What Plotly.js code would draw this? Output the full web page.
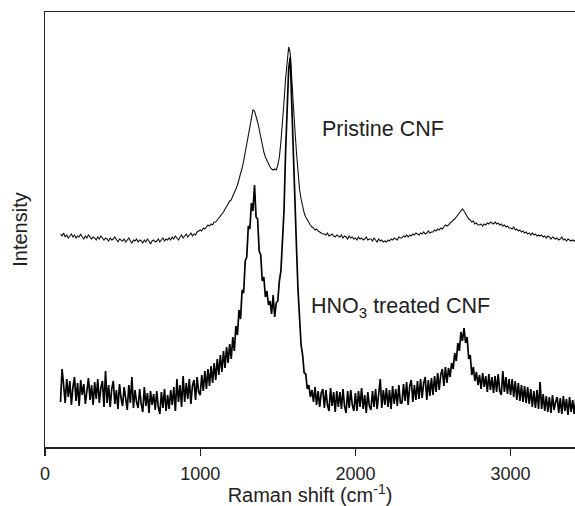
<!DOCTYPE html>
<html>
<head>
<meta charset="utf-8">
<script src="https://cdn.plot.ly/plotly-3.0.1.min.js"></script>
<style>html,body{margin:0;padding:0;background:#fff;}#chart{width:575px;height:506px;}</style>
</head>
<body>
<div id="chart"></div>
<script>
// Raman shift grid (cm^-1): first value and spacing of the recorded spectra
const shiftStart = 100;
const shiftStep = 10;

// Pristine CNF intensity (arbitrary units), one value per grid point, 100..3420 cm^-1
const pristineCNF = [
213,211,214,210,212,209,211,213,210,212,
209,211,210,213,210,208,211,209,212,210,
208,210,209,207,210,208,211,209,207,209,
208,206,209,207,208,210,207,205,208,207,
206,208,205,207,209,206,204,207,206,208,
205,207,206,204,207,205,208,206,203,206,
207,205,206,208,205,207,209,206,208,207,
209,207,210,208,211,209,207,210,212,209,
211,213,210,212,214,211,213,212,215,216,
217,216,219,218,220,222,221,223,222,225,
225,227,228,231,233,235,238,240,243,246,
247,251,254,258,262,267,272,279,286,295,
303,312,322,330,337,336,331,325,318,310,
302,295,290,286,282,280,278,277,278,277,
282,290,305,323,345,368,385,400,394,372,
345,318,295,275,258,248,240,234,230,227,
224,222,220,219,217,218,216,215,214,213,
213,212,214,211,212,213,211,210,212,211,
210,212,209,211,210,208,211,209,210,208,
209,207,210,208,209,207,208,210,207,208,
208,206,209,207,205,208,206,207,205,206,
205,207,206,208,207,209,208,207,210,209,
209,211,210,212,210,212,211,213,212,214,
213,212,214,213,215,213,214,216,214,215,
215,217,216,218,217,219,218,220,222,221,
222,224,225,227,228,230,232,234,236,238,
236,233,230,228,227,225,226,223,224,222,
222,223,221,223,222,224,223,225,224,223,
225,223,224,222,223,221,222,220,221,219,
219,218,220,217,218,216,217,215,216,214,
215,213,214,212,214,212,213,211,212,211,
212,210,211,209,211,210,208,210,209,208,
209,207,208,210,207,208,206,208,207,206,
207,206,207
];

// HNO3 treated CNF intensity (arbitrary units), same grid
const treatedCNF = [
45,78,62,44,68,50,66,42,60,70,
46,64,41,67,52,63,43,58,69,47,
62,42,65,48,68,44,59,66,40,76,
44,62,40,58,66,43,57,38,63,49,
41,60,47,37,62,44,70,39,57,45,
39,58,43,35,60,41,54,34,56,42,
53,37,56,40,33,55,39,58,36,52,
38,57,42,60,36,68,45,62,40,71,
45,64,48,68,43,61,67,47,70,55,
52,72,56,76,58,78,61,81,64,84,
67,88,72,92,75,96,79,100,84,103,
88,110,96,121,112,137,128,157,154,186,
190,221,218,244,236,262,230,228,196,192,
166,170,150,156,142,146,133,152,130,144,
146,166,176,211,236,294,338,378,390,338,
284,236,202,158,132,102,92,74,73,58,
62,50,57,45,60,42,56,40,54,58,
39,57,42,36,59,41,55,35,56,40,
55,38,58,41,34,56,39,57,42,36,
54,36,56,40,59,38,52,34,55,41,
37,56,40,58,38,55,68,39,57,42,
59,40,57,38,61,43,58,41,62,44,
44,63,46,65,42,61,67,45,62,47,
66,48,68,49,64,70,47,67,51,69,
52,71,55,74,57,72,78,61,80,64,
79,70,84,78,94,86,104,96,115,106,
119,104,110,88,92,72,80,66,75,62,
72,58,74,60,71,55,73,57,70,54,
71,55,73,56,52,76,55,70,53,68,
52,68,50,66,47,64,46,62,45,61,
44,60,43,58,40,56,39,57,38,65,
38,53,36,51,35,50,34,52,37,45,
50,34,49,33,51,36,48,32,50,35,
47,33,48
];

const xTicks = [0, 1000, 2000, 3000];
const labelPristine = "Pristine CNF";
const labelTreated = "HNO<sub>3</sub> treated CNF";

const shiftsP = pristineCNF.map((_, i) => shiftStart + i * shiftStep);
const shiftsT = treatedCNF.map((_, i) => shiftStart + i * shiftStep);

const font = "Liberation Sans, Arial, sans-serif";

const traces = [
  {x: shiftsP, y: pristineCNF, type: "scatter", mode: "lines",
   line: {color: "#111", width: 1.1}, showlegend: false, hoverinfo: "skip"},
  {x: shiftsT, y: treatedCNF, type: "scatter", mode: "lines",
   line: {color: "#000", width: 1.7}, showlegend: false, hoverinfo: "skip"}
];

const layout = {
  width: 575, height: 506,
  margin: {l: 45, r: 0, t: 12, b: 59},
  paper_bgcolor: "#fff", plot_bgcolor: "#fff",
  font: {family: font, color: "#222"},
  showlegend: false,
  xaxis: {
    range: [0, 3415], tickvals: xTicks, ticktext: xTicks.map(String),
    showgrid: false, zeroline: false,
    showline: true, linecolor: "#222", linewidth: 1.5, mirror: true,
    ticks: "outside", ticklen: 7, tickwidth: 1.3, tickcolor: "#222",
    ticklabelstandoff: 3,
    tickfont: {size: 18, family: font, color: "#222"},
    title: {text: "Raman shift (cm<sup>-1</sup>)", font: {size: 20, family: font, color: "#222"}, standoff: 12}
  },
  yaxis: {
    range: [0, 435], showticklabels: false, ticks: "",
    showgrid: false, zeroline: false,
    showline: true, linecolor: "#222", linewidth: 1.5, mirror: false,
    title: {text: "Intensity", font: {size: 20, family: font, color: "#222"}, standoff: 10}
  },
  annotations: [
    {x: 1774, y: 318, xref: "x", yref: "y", text: labelPristine, showarrow: false,
     xanchor: "left", yanchor: "middle", font: {size: 21.5, family: font, color: "#222"}},
    {x: 1698, y: 140, xref: "x", yref: "y", text: labelTreated, showarrow: false,
     xanchor: "left", yanchor: "middle", font: {size: 21.5, family: font, color: "#222"}}
  ]
};

Plotly.newPlot("chart", traces, layout, {displayModeBar: false, staticPlot: true});
</script>
</body>
</html>
